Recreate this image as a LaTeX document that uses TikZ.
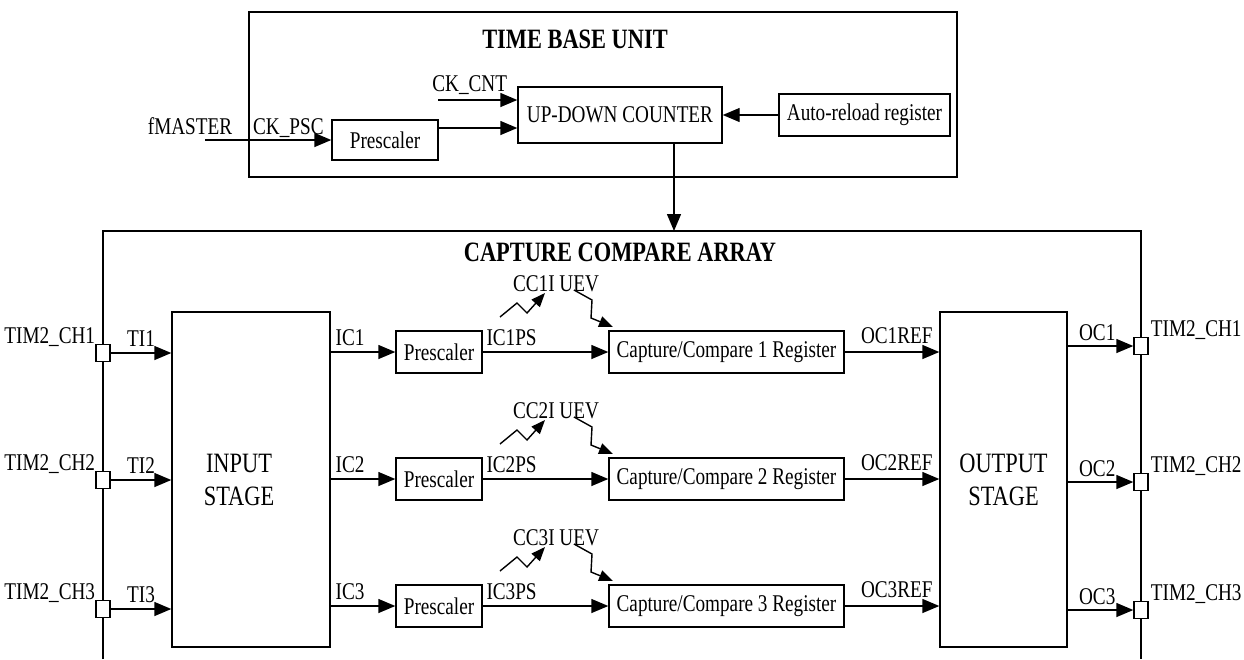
\documentclass[tikz,border=0pt]{standalone}
\usepackage{fontspec}
\setmainfont{Liberation Serif}[FakeStretch=0.8]
\usetikzlibrary{arrows.meta,positioning}
\tikzstyle{blk}=[rectangle,draw,line width=1.4pt,inner sep=0pt,align=center]
\tikzstyle{stage}=[blk,minimum height=335pt,font=\fontsize{28}{33}\selectfont]
\tikzstyle{stgtxt}=[inner sep=0pt,align=center,font=\fontsize{28}{33}\selectfont]
\tikzstyle{psc}=[blk,minimum width=86pt,minimum height=42pt]
\tikzstyle{ccr}=[blk,minimum width=235pt,minimum height=42pt]
\tikzstyle{pin}=[blk,fill=white,minimum width=14pt,minimum height=17pt]
\tikzstyle{ttl}=[inner sep=0pt,font=\fontsize{28}{32}\selectfont\bfseries]
\tikzstyle{lab}=[inner sep=0pt,anchor=base]
\tikzstyle{arr}=[-{Triangle[length=17pt,width=14pt]},line width=1.4pt]
\tikzstyle{zig}=[-{Triangle[length=14pt,width=11pt]},line width=1.4pt]
\begin{document}
\begin{tikzpicture}[x=1pt,y=-1pt,node distance=127pt,font=\fontsize{24}{27}\selectfont]
\useasboundingbox (0,0) rectangle (1244,659);
% time base unit
\node[blk,minimum width=708pt,minimum height=165pt] (tbu) at (603,94.5) {};
\node[ttl] (tbuT) at (575,39) {TIME BASE UNIT};
\node[blk,minimum width=106pt,minimum height=40pt] (psc0) at (385,140) {Prescaler};
\node[blk,minimum width=204pt,minimum height=56pt] (cnt) at (620,115) {UP-DOWN COUNTER};
\node[blk,minimum width=171pt,minimum height=42pt] (arl) at (864.5,115) {Auto-reload register};
\coordinate (fin) at (205,140);
\coordinate (ckin) at (438,100);
\draw[arr] (fin) -- node[lab,pos=0,xshift=-15pt,yshift=6pt]{fMASTER} node[lab,pos=0.66,yshift=6pt]{CK\_PSC} (psc0);
\draw[arr] (ckin) -- node[lab,pos=0.4,yshift=9pt]{CK\_CNT} (ckin -| cnt.west);
\draw[arr] ([yshift=12pt]psc0.east) -- ([yshift=12pt]psc0.east -| cnt.west);
\draw[arr] (arl) -- (cnt);
% capture compare array
\coordinate (ccaBL) at (103,659);
\coordinate (ccaTR) at (1141,231);
\coordinate (ccaBR) at (1141,659);
\draw[line width=1.4pt] (ccaBL) |- (ccaTR) -- (ccaBR);
\draw[arr] ([xshift=54pt]cnt.south) -- ([xshift=54pt]cnt.south |- ccaTR);
\node[ttl] (ccaT) at (620,252) {CAPTURE COMPARE ARRAY};
\node[stage,minimum width=158pt] (ins) at (251,479.5) {};
\node[stgtxt] (insT) at (239,479.5) {INPUT\\STAGE};
\node[stage,minimum width=127pt] (outs) at (1003.5,479.5) {OUTPUT\\STAGE};
% pins
\node[pin] (pl1) at (103,353) {};
\node[pin] (pl2) at (103,480) {};
\node[pin] (pl3) at (103,609) {};
\node[pin] (pr1) at (1141,346) {};
\node[pin] (pr2) at (1141,482) {};
\node[pin] (pr3) at (1141,610) {};
\node[lab,anchor=base east] (tl1) at (pl1.north west) {TIM2\_CH1};
\node[lab,anchor=base east] (tl2) at (pl2.north west) {TIM2\_CH2};
\node[lab,anchor=base east] (tl3) at (pl3.north west) {TIM2\_CH3};
\node[lab,anchor=base west,xshift=2pt] (tr1) at (pr1.north east) {TIM2\_CH1};
\node[lab,anchor=base west,xshift=2pt] (tr2) at (pr2.north east) {TIM2\_CH2};
\node[lab,anchor=base west,xshift=2pt] (tr3) at (pr3.north east) {TIM2\_CH3};
% channels
\node[psc] (p1) at (439,352) {Prescaler};
\node[psc,below of=p1] (p2) {Prescaler};
\node[psc,below of=p2] (p3) {Prescaler};
\node[ccr] (cc1) at (726.5,352) {Capture/Compare 1 Register};
\node[ccr,below of=cc1] (cc2) {Capture/Compare 2 Register};
\node[ccr,below of=cc2] (cc3) {Capture/Compare 3 Register};
\node[lab] (ev1) at (556,291) {CC1I UEV};
\node[lab,below of=ev1] (ev2) {CC2I UEV};
\node[lab,below of=ev2] (ev3) {CC3I UEV};
\draw[arr] (pl1) -- node[lab,yshift=7pt]{TI1} (pl1 -| ins.west);
\draw[arr] (pl2) -- node[lab,yshift=7pt]{TI2} (pl2 -| ins.west);
\draw[arr] (pl3) -- node[lab,yshift=7pt]{TI3} (pl3 -| ins.west);
\draw[arr] (ins.east |- p1) -- node[lab,pos=0.3,yshift=7pt]{IC1} (p1);
\draw[arr] (ins.east |- p2) -- node[lab,pos=0.3,yshift=7pt]{IC2} (p2);
\draw[arr] (ins.east |- p3) -- node[lab,pos=0.3,yshift=7pt]{IC3} (p3);
\draw[arr] (p1) -- node[lab,pos=0.23,yshift=7pt]{IC1PS} (cc1);
\draw[arr] (p2) -- node[lab,pos=0.23,yshift=7pt]{IC2PS} (cc2);
\draw[arr] (p3) -- node[lab,pos=0.23,yshift=7pt]{IC3PS} (cc3);
\draw[arr] (cc1) -- node[lab,pos=0.55,yshift=9pt]{OC1REF} (cc1 -| outs.west);
\draw[arr] (cc2) -- node[lab,pos=0.55,yshift=9pt]{OC2REF} (cc2 -| outs.west);
\draw[arr] (cc3) -- node[lab,pos=0.55,yshift=9pt]{OC3REF} (cc3 -| outs.west);
\draw[arr] (outs.east |- pr1) -- node[lab,pos=0.45,yshift=6pt]{OC1} (pr1);
\draw[arr] (outs.east |- pr2) -- node[lab,pos=0.45,yshift=6pt]{OC2} (pr2);
\draw[arr] (outs.east |- pr3) -- node[lab,pos=0.45,yshift=6pt]{OC3} (pr3);
% interrupt / update events
\draw[zig] ([shift={(-56,26)}]ev1.base) -- ++(17,-14) -- ++(10,10) -- ++(18,-20);
\draw[zig] ([shift={(18,-1)}]ev1.base) -- ++(18,10) -- ++(-1,18) -- ++(22,9);
\draw[zig] ([shift={(-56,26)}]ev2.base) -- ++(17,-14) -- ++(10,10) -- ++(18,-20);
\draw[zig] ([shift={(18,-1)}]ev2.base) -- ++(18,10) -- ++(-1,18) -- ++(22,9);
\draw[zig] ([shift={(-56,26)}]ev3.base) -- ++(17,-14) -- ++(10,10) -- ++(18,-20);
\draw[zig] ([shift={(18,-1)}]ev3.base) -- ++(18,10) -- ++(-1,18) -- ++(22,9);
\end{tikzpicture}
\end{document}
